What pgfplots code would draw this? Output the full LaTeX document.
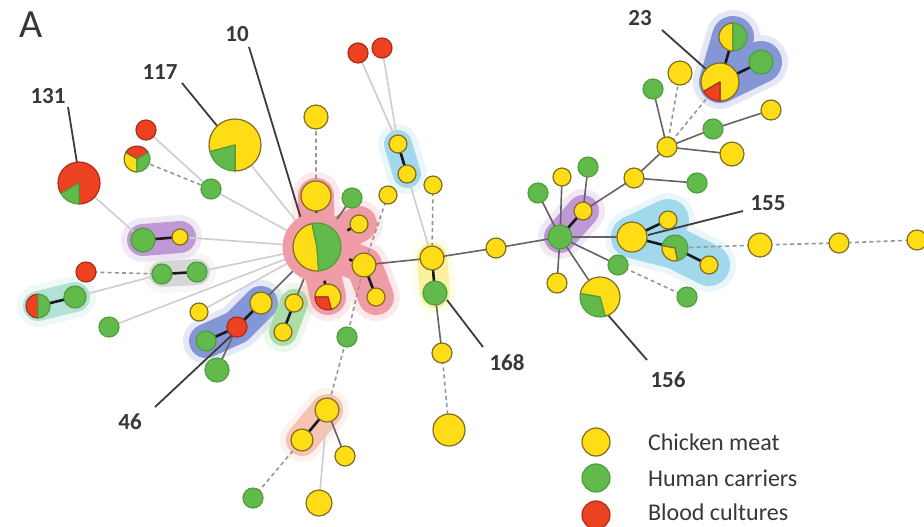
\documentclass[border=0pt]{standalone}
\usepackage{pgfplots}
\pgfplotsset{compat=1.18}
\usepackage{pgfplotstable}
\usepackage{fontspec}
\setmainfont{Carlito}

\definecolor{nyel}{RGB}{255,221,22}
\definecolor{nyeld}{RGB}{128,108,36}
\definecolor{ngrn}{RGB}{98,186,76}
\definecolor{ngrnd}{RGB}{78,158,60}
\definecolor{nred}{RGB}{236,66,34}
\definecolor{nredd}{RGB}{170,45,25}
\definecolor{hpurple}{RGB}{192,152,214}
\definecolor{hgray}{RGB}{214,214,214}
\definecolor{hteal}{RGB}{178,226,214}
\definecolor{hblue}{RGB}{132,150,214}
\definecolor{hgreen}{RGB}{172,220,168}
\definecolor{hpink}{RGB}{240,156,166}
\definecolor{hcyan}{RGB}{162,216,236}
\definecolor{hyellow}{RGB}{250,240,160}
\definecolor{horange}{RGB}{246,196,176}
\definecolor{elight}{RGB}{205,205,205}
\definecolor{edash}{RGB}{150,150,150}
\definecolor{egray}{RGB}{100,100,100}
\definecolor{eblack}{RGB}{25,25,25}
\definecolor{lead}{RGB}{60,60,60}
\definecolor{txt}{RGB}{55,55,55}

\pgfdeclareplotmark{blank}{}

% Node table: position (px), radius (px), sector start/end angle, colour index
% colour index: 0 chicken meat, 1 human carriers, 2 blood cultures
\pgfplotstableread{
x y r a b c
316 117 12 0 360 0
180 237 8 0 360 0
398 144 9 0 360 0
407 174 9 0 360 0
433 185 9 0 360 0
388 195 9 0 360 0
316 196 15 0 360 0
359 224 9 0 360 0
364 265 12 0 360 0
376 297 9 0 360 0
432 258 12 0 360 0
442 353 10 0 360 0
449 430 16 0 360 0
496 248 10 0 360 0
557 283 10 0 360 0
327 410 12 0 360 0
302 440 11 0 360 0
345 456 10 0 360 0
319 503 13 0 360 0
261 303 11 0 360 0
199 312 9 0 360 0
294 303 9 0 360 0
283 332 9 0 360 0
680 73 12 0 360 0
667 147 10 0 360 0
771 110 10 0 360 0
732 154 12 0 360 0
634 178 10 0 360 0
562 177 9 0 360 0
583 211 9 0 360 0
632 237 15 0 360 0
668 220 9 0 360 0
709 265 9 0 360 0
760 245 12 0 360 0
839 243 10 0 360 0
917 240 10 0 360 0
211 189 10 0 360 1
143 240 12 0 360 1
162 274 10 0 360 1
197 272 10 0 360 1
75 297 11 0 360 1
109 327 10 0 360 1
206 341 10 0 360 1
217 370 12 0 360 1
352 198 10 0 360 1
435 293 12 0 360 1
347 337 10 0 360 1
253 498 10 0 360 1
653 89 10 0 360 1
761 62 12 0 360 1
713 129 10 0 360 1
697 183 10 0 360 1
588 167 10 0 360 1
538 193 10 0 360 1
560 237 12 0 360 1
618 265 10 0 360 1
687 297 10 0 360 1
146 130 10 0 360 2
86 272 10 0 360 2
237 327 10 0 360 2
358 53 10 0 360 2
382 48 10 0 360 2
79 183 21 270 570 2
79 183 21 210 270 1
137 159 13 30 150 2
137 159 13 150 270 0
137 159 13 270 390 1
235 145 26 270 555 0
235 145 26 195 270 1
317 247 24 102 274 0
317 247 24 274 462 1
328 297 13 285 540 0
328 297 13 180 285 2
38 306 12 90 270 2
38 306 12 270 450 1
720 82 19 270 570 0
720 82 19 210 270 2
733 37 14 90 270 0
733 37 14 270 450 1
675 248 13 280 530 1
675 248 13 170 280 0
600 297 20 285 530 0
600 297 20 170 285 1
596 442 14 0 360 0
596 478 14 0 360 1
596 515 14 0 360 2
}\nodetab

\pgfplotsset{
  pienodes/.style={
    scatter, only marks, mark=blank,
    visualization depends on={\thisrow{r}/2 \as \nodeR},
    visualization depends on={\thisrow{a} \as \angA},
    visualization depends on={\thisrow{b} \as \angB},
    visualization depends on={\thisrow{c} \as \colnum},
    scatter/@pre marker code/.code={%
      \pgfmathtruncatemacro\colid{\colnum}%
      \ifnum\colid=0
        \def\fc{nyel}\def\dc{nyeld}%
      \else\ifnum\colid=1
        \def\fc{ngrn}\def\dc{ngrnd}%
      \else
        \def\fc{nred}\def\dc{nredd}%
      \fi\fi
      \pgfmathtruncatemacro\sweep{\angB-\angA}%
      \ifnum\sweep>359
        \path[fill=\fc,draw=\dc,line width=0.6pt] (0,0) circle[radius=\nodeR pt];
      \else
        \path[fill=\fc,draw=\dc,line width=0.6pt,line join=round]
          (0,0) -- (\angA:\nodeR pt) arc[start angle=\angA,end angle=\angB,radius=\nodeR pt] -- cycle;
      \fi
    },
    scatter/@post marker code/.code={},
  },
  halo/.style={no marks, line cap=round, line join=round, draw=#1,
    preaction={draw=#1, draw opacity=0.22, line width=\pgflinewidth+3pt}},
}
\tikzset{
  numlab/.style={font=\fontsize{11.5}{13}\selectfont\bfseries, text=txt},
  leglab/.style={font=\fontsize{12}{14}\selectfont, text=txt, anchor=west},
}

\begin{document}
\begin{tikzpicture}
\begin{axis}[
  scale only axis, width=462pt, height=263pt,
  xmin=0, xmax=924, ymin=0, ymax=526, y dir=reverse,
  hide axis, clip=false, unbounded coords=jump,
]
% group halos
\addplot[halo=hpurple, line width=16pt] table {x y
143 240
180 237
nan nan
560 237
583 211
};
\addplot[halo=hgray, line width=13pt] table {x y
162 274
197 272
};
\addplot[halo=hteal, line width=15pt] table {x y
38 306
75 297
};
\addplot[halo=hblue, line width=17pt] table {x y
206 341
237 327
261 303
};
\addplot[halo=hblue, line width=21pt] table {x y
733 37
720 82
761 62
};
\addplot[halo=hgreen, line width=14pt] table {x y
294 303
283 332
};
\addplot[only marks, mark=*, mark size=17pt, color=hpink] coordinates {(317,247)};
\addplot[halo=hpink, line width=18pt] table {x y
317 247
316 196
nan nan
317 247
359 224
nan nan
317 247
364 265
376 297
nan nan
317 247
328 297
};
\addplot[halo=hcyan, line width=14pt] table {x y
398 144
407 174
};
\addplot[halo=hcyan, line width=21pt] table {x y
668 220
632 237
675 248
709 265
};
\addplot[halo=hyellow, line width=15pt] table {x y
432 258
435 293
};
\addplot[halo=horange, line width=16pt] table {x y
327 410
302 440
};
% faint links
\addplot[no marks, elight, line width=0.8pt] table {x y
79 183
143 240
nan nan
146 130
211 189
nan nan
235 145
317 247
nan nan
211 189
317 247
nan nan
180 237
317 247
nan nan
197 272
317 247
nan nan
75 297
162 274
nan nan
109 327
317 247
nan nan
199 312
317 247
nan nan
358 53
398 144
nan nan
382 48
398 144
nan nan
407 174
432 258
nan nan
327 410
319 503
};
% dashed links
\addplot[no marks, edash, line width=0.8pt, dash pattern=on 2pt off 1.6pt] table {x y
137 159
211 189
nan nan
316 117
316 196
nan nan
86 272
162 274
nan nan
388 195
364 265
nan nan
433 185
432 258
nan nan
364 265
347 337
327 410
nan nan
302 440
253 498
nan nan
442 353
449 430
nan nan
667 147
680 73
nan nan
667 147
720 82
nan nan
618 265
687 297
nan nan
675 248
760 245
839 243
917 240
};
% solid grey links
\addplot[no marks, egray, line width=0.8pt] table {x y
364 265
432 258
nan nan
432 258
496 248
560 237
nan nan
435 293
442 353
nan nan
560 237
538 193
nan nan
560 237
562 177
nan nan
560 237
618 265
nan nan
560 237
557 283
nan nan
560 237
600 297
nan nan
560 237
632 237
nan nan
588 167
583 211
nan nan
583 211
634 178
667 147
nan nan
634 178
697 183
nan nan
667 147
653 89
nan nan
667 147
713 129
771 110
nan nan
667 147
732 154
nan nan
261 303
317 247
nan nan
237 327
217 370
nan nan
294 303
317 247
nan nan
317 247
352 198
nan nan
327 410
345 456
};
% close links within groups
\addplot[no marks, eblack, line width=1.3pt] table {x y
143 240
180 237
nan nan
162 274
197 272
nan nan
38 306
75 297
nan nan
206 341
237 327
261 303
nan nan
294 303
283 332
nan nan
317 247
316 196
nan nan
317 247
359 224
nan nan
317 247
364 265
376 297
nan nan
317 247
328 297
nan nan
398 144
407 174
nan nan
432 258
435 293
nan nan
327 410
302 440
nan nan
560 237
583 211
nan nan
632 237
668 220
nan nan
632 237
675 248
709 265
nan nan
720 82
733 37
nan nan
720 82
761 62
};
% nodes
\addplot[pienodes] table[x=x, y=y] {\nodetab};
% leader lines
\addplot[no marks, lead, line width=0.9pt] table {x y
68 107
77 163
nan nan
182 83
218 127
nan nan
249 47
305 232
nan nan
662 30
707 70
nan nan
743 211
648 235
nan nan
447 300
483 347
nan nan
608 315
647 360
nan nan
155 407
232 335
};
\node[numlab] at (48,96) {131};
\node[numlab] at (160,72) {117};
\node[numlab] at (237,34) {10};
\node[numlab] at (640,18) {23};
\node[numlab] at (768,203) {155};
\node[numlab] at (507,363) {168};
\node[numlab] at (668,380) {156};
\node[numlab] at (130,422) {46};
\node[font=\fontsize{20}{22}\selectfont, text=txt] at (31,25) {A};
\node[leglab] at (641,442) {Chicken meat};
\node[leglab] at (641,478) {Human carriers};
\node[leglab] at (641,512) {Blood cultures};
\end{axis}
\pgfresetboundingbox
\path[use as bounding box] (current axis.south west) rectangle (current axis.north east);
\end{tikzpicture}
\end{document}
